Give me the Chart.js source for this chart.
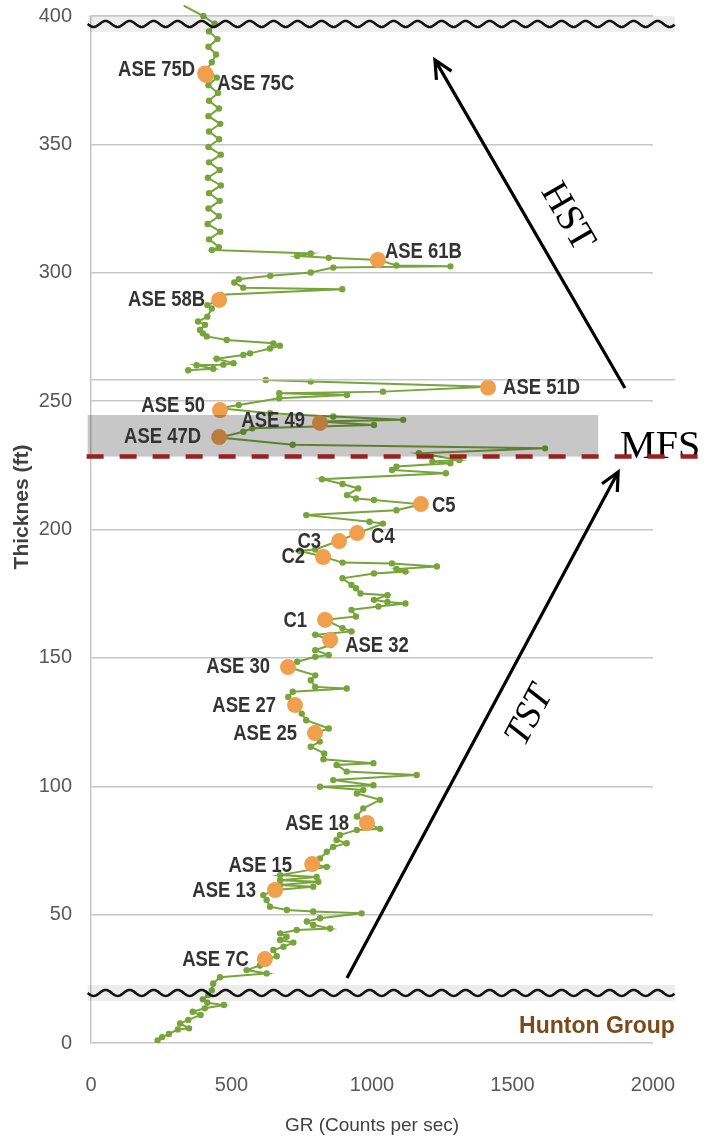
<!DOCTYPE html>
<html>
<head>
<meta charset="utf-8">
<title>GR log - Thickness</title>
<script src="https://cdn.jsdelivr.net/npm/chart.js@4.4.1/dist/chart.umd.min.js"></script>
<style>
  html, body { margin: 0; padding: 0; background: #fff; }
  #wrap { width: 706px; height: 1144px; position: relative; }
</style>
</head>
<body>
<div id="wrap"><canvas id="grChart"></canvas></div>
<script>
// GR log readings, from the base of the section upwards (null = break in the log)
const grValue = [
  237, 253, 277, 309, 349, 317, 346, 390, 362, 405, 473, 414, 398, 417, 430,
  435, 459, 625, 554, 601, 619, 661, 649, 685, 720, 673, 696, 673, 732, 851, 791, 768, 815, 963, 791, 697, 637, 625, 613,
  655, 791, 673, 809, 673, 803, 673, 839, 787, 815, 839, 862, 910, 874, 886, 946, 1029, 982, 946, 969, 1029, 946, 969,
  815, 1005, 862, 1159, 910, 874, 1005, 827, 830, 782, 814,
  798, 846, 766, 750, 726, 702, 718, 910, 798, 782, 798, 702, 734, 798, 846, 798, 854, 850, 798, 927, 895, 834, 943,
  927, 1023, 1119, 1055, 1007, 1055, 959, 943, 927, 895, 1007, 1119, 1087, 1231,
  1071, 895, 827, 742, 798, 883, 947, 1039, 991, 766, 1087, 1175, 1007, 943, 911, 951, 895, 822, 1263, 1071, 1087,
  1279, 1215, 1311, 1167, 1616, 718, 457, 542, 574, 1007, 814, 1111, 862, 638, 457, 526, 670, 911, 670, 1039, 1415,
  782, 622, null,
  346, 435, 376, 471, 507, 447, 542, 566, 637, 672, 649, 483, 412, 398, 388, 406, 381, 414, 430, 414, 457, 462, 894,
  542, 510, 526, 638, 782, 862, 1279, 1087, 1023, 846, 734, 782, 430,
  455, 420, 460, 415, 455, 418, 458, 420, 462, 416, 458, 420, 462, 418, 456, 420, 460, 418, 455, 420, 452, 418, 448,
  410, 430, 445, 418, 450, 420, 440, 400, 330
];
const grDepth = [
  1.0, 2.3, 3.5, 5.3, 5.7, 7.6, 9.0, 10.9, 12.2, 13.5, 14.8, 15.7, 17.0, 18.7, 20.5,
  23.2, 25.6, 27.1, 28.4, 30.2, 32.5, 33.8, 36.2, 37.5, 39.1, 40.1, 41.4, 42.7, 44.0, 44.6, 46.0, 47.3, 48.6, 50.5, 51.2, 51.8, 53.1, 55.7, 57.6,
  59.6, 60.9, 61.5, 62.8, 63.4, 64.7, 65.4, 68.6, 69.6, 71.9, 74.5, 76.4, 77.8, 79.1, 81.0, 83.0, 83.4, 85.6, 88.2, 91.4, 94.7, 97.2, 98.5,
  99.8, 100.4, 102.4, 104.4, 105.7, 108.3, 109.0, 110.5, 112.8, 115.4, 117.4,
  120.6, 122.5, 125.7, 128.3, 131.6, 134.8, 136.8, 138.1, 138.7, 141.3, 143.2, 146.4, 148.5, 150.4, 151.1, 153.0, 155.0, 157.0, 159.0, 160.3, 161.6, 164.8, 166.1,
  168.7, 170.0, 171.2, 171.8, 172.6, 174.4, 175.1, 177.1, 178.4, 181.0, 182.9, 183.6, 184.6, 185.6,
  186.8, 187.1, 189.4, 191.7, 192.2, 195.6, 198.5, 202.3, 203.0, 205.6, 207.5, 209.8, 211.5, 212.1, 213.4, 216.0, 217.7, 219.6, 221.9, 223.2, 224.5,
  225.8, 226.5, 227.1, 229.7, 231.6, 233.0, 235.8, 238.1, 239.4, 240.7, 242.1, 242.7, 244.0, 245.3, 247.2, 248.5, 251.1, 252.4, 253.1, 253.7, 255.6,
  257.6, 258.2, null,
  262.0, 262.6, 264.0, 264.2, 264.8, 266.5, 268.0, 268.6, 270.5, 271.6, 272.5, 273.8, 275.2, 276.4, 277.7, 279.7, 281.0, 282.9, 286.1, 287.4, 289.4, 291.4, 293.6,
  294.2, 296.2, 297.5, 298.8, 300.1, 302.0, 302.5, 302.8, 305.0, 305.8, 306.5, 307.5, 308.9,
  310, 313, 316, 319, 322, 325, 328, 331, 334, 337, 340, 343, 346, 349, 352, 355, 358, 361, 364, 367, 370, 373, 376,
  379, 382, 385, 388, 391, 394, 397, 400, 404
];

// sampled horizons
const sampleNames = ['ASE 75D', 'ASE 75C', 'ASE 61B', 'ASE 58B', 'ASE 51D', 'ASE 50', 'ASE 49', 'ASE 47D',
  'C5', 'C4', 'C3', 'C2', 'C1', 'ASE 32', 'ASE 30', 'ASE 27', 'ASE 25', 'ASE 18', 'ASE 15', 'ASE 13', 'ASE 7C'];
const sampleValue = [406, 410, 1021, 456, 1413, 459, 815, 456, 1174, 947, 883, 826, 833, 851, 701, 726, 797, 982, 787, 655, 619];
const sampleDepth = [377.6, 377.0, 305.0, 289.4, 255.3, 246.5, 241.5, 236.0, 209.9, 198.6, 195.5, 189.3, 164.8, 157.0, 146.4, 131.6, 120.7, 85.7, 69.7, 59.6, 32.7];

// label placement beside each dot
const labelSide = ['l', 'r', 'r', 'l', 'r', 'l', 'l', 'l', 'r', 'r', 'l', 'l', 'l', 'r', 'l', 'l', 'l', 'l', 'l', 'l', 'l'];
const labelGap = [10, 11, 7, 14, 15, 15, 15, 18, 11, 14, 18, 18, 18, 15, 18, 19, 18, 18, 20, 19, 16];
const labelNudge = [-4, 9, -8, 0, 0, -4, -2, 0, 2, 4, 1, 0, 1, 6, 0, 1, 1, 1, 2, 1, 1];

// interpretation marks (data units)
const mfsDepth = 228.4;
const bandTop = 244.6;
const bandRight = 1805;
const unconformities = [396.9, 19.5];
const spliceDepth = 258.3;
const hstArrow = [1900, 255.1, 1224, 382.9];
const tstArrow = [911, 25.3, 1876, 222.4];

const tickFont = '"Liberation Sans", Arial, sans-serif';

const overlay = {
  id: 'overlay',
  afterDatasetsDraw(chart) {
    const { ctx, scales: { x, y } } = chart;
    const px = v => x.getPixelForValue(v);
    const py = v => y.getPixelForValue(v);
    ctx.save();

    // splice line
    ctx.strokeStyle = '#c8c8c8';
    ctx.lineWidth = 1.5;
    ctx.beginPath();
    ctx.moveTo(px(-5), py(spliceDepth));
    ctx.lineTo(px(2078), py(spliceDepth));
    ctx.stroke();

    // grey band
    const bx0 = px(-12), bx1 = px(bandRight);
    const by0 = py(bandTop), by1 = py(mfsDepth);
    ctx.fillStyle = 'rgba(0,0,0,0.22)';
    ctx.fillRect(bx0, by0, bx1 - bx0, by1 - by0);

    // MFS text then dashed line over it
    ctx.fillStyle = '#000';
    ctx.font = '40px "Liberation Serif", "Times New Roman", serif';
    ctx.textAlign = 'left';
    ctx.textBaseline = 'alphabetic';
    ctx.fillText('MFS', px(1883), by1 + 1);
    ctx.strokeStyle = '#9a1f1f';
    ctx.lineWidth = 4.5;
    ctx.setLineDash([17, 16]);
    ctx.beginPath();
    ctx.moveTo(bx0 - 1, by1);
    ctx.lineTo(chart.width, by1);
    ctx.stroke();
    ctx.setLineDash([]);

    // wavy unconformities
    unconformities.forEach(d => {
      const yp = py(d), x0 = px(-12), x1 = px(2078);
      ctx.fillStyle = 'rgba(0,0,0,0.07)';
      ctx.fillRect(x0, yp - 8, x1 - x0, 16);
      ctx.beginPath();
      for (let p = x0; p <= x1; p += 1) {
        const w = yp + 3 * Math.sin((p - x0) / 24 * 2 * Math.PI);
        if (p === x0) ctx.moveTo(p, w); else ctx.lineTo(p, w);
      }
      ctx.strokeStyle = '#111';
      ctx.lineWidth = 2.6;
      ctx.stroke();
    });

    // arrows
    function arrow(a) {
      const x0 = px(a[0]), y0 = py(a[1]), x1 = px(a[2]), y1 = py(a[3]);
      const ang = Math.atan2(y1 - y0, x1 - x0);
      ctx.strokeStyle = '#000';
      ctx.lineWidth = 3.2;
      ctx.beginPath();
      ctx.moveTo(x0, y0);
      ctx.lineTo(x1, y1);
      ctx.moveTo(x1 + 20 * Math.cos(ang + Math.PI - 0.45), y1 + 20 * Math.sin(ang + Math.PI - 0.45));
      ctx.lineTo(x1, y1);
      ctx.lineTo(x1 + 20 * Math.cos(ang + Math.PI + 0.45), y1 + 20 * Math.sin(ang + Math.PI + 0.45));
      ctx.stroke();
    }
    arrow(hstArrow);
    arrow(tstArrow);

    function rotText(txt, xv, yv, deg, font) {
      ctx.save();
      ctx.translate(px(xv), py(yv));
      ctx.rotate(deg * Math.PI / 180);
      ctx.font = font;
      ctx.fillStyle = '#000';
      ctx.textAlign = 'center';
      ctx.textBaseline = 'middle';
      ctx.fillText(txt, 0, 0);
      ctx.restore();
    }
    rotText('HST', 1694, 321.7, 60, '38px "Liberation Serif", serif');
    rotText('TST', 1562, 127.4, -62, 'italic 38px "Liberation Serif", serif');

    // formation name
    ctx.fillStyle = '#7b4a1b';
    ctx.font = 'bold 23px ' + tickFont;
    ctx.textAlign = 'right';
    ctx.textBaseline = 'alphabetic';
    ctx.fillText('Hunton Group', px(2078), py(3.8));

    // sample labels, slightly condensed
    ctx.fillStyle = '#333';
    ctx.font = 'bold 22px ' + tickFont;
    ctx.textBaseline = 'middle';
    const squeeze = 0.84;
    sampleNames.forEach((name, i) => {
      const cx = px(sampleValue[i]), cy = py(sampleDepth[i]) + labelNudge[i];
      const tx = labelSide[i] === 'l' ? cx - labelGap[i] : cx + labelGap[i];
      ctx.save();
      ctx.translate(tx, cy);
      ctx.scale(squeeze, 1);
      ctx.textAlign = labelSide[i] === 'l' ? 'right' : 'left';
      ctx.fillText(name, 0, 0);
      ctx.restore();
    });

    // y axis title
    ctx.save();
    ctx.translate(22, 507);
    ctx.rotate(-Math.PI / 2);
    ctx.fillStyle = '#404040';
    ctx.font = 'bold 21px ' + tickFont;
    ctx.textAlign = 'center';
    ctx.textBaseline = 'middle';
    ctx.fillText('Thicknes (ft)', 0, 0);
    ctx.restore();

    ctx.restore();
  }
};

const ctx = document.getElementById('grChart').getContext('2d');
const grChart = new Chart(ctx, {
  type: 'scatter',
  data: {
    datasets: [
      {
        label: 'GR',
        data: grValue.map((v, i) => ({ x: v, y: grDepth[i] })),
        showLine: true,
        spanGaps: false,
        borderColor: '#77a53b',
        backgroundColor: '#77a53b',
        borderWidth: 2,
        pointRadius: 2.2,
        pointStyle: 'circle',
        clip: { left: 0, right: 0, top: 16, bottom: 0 },
        order: 2
      },
      {
        label: 'Samples',
        data: sampleValue.map((v, i) => ({ x: v, y: sampleDepth[i] })),
        backgroundColor: '#f0a04d',
        borderWidth: 0,
        pointRadius: 8,
        order: 1
      }
    ]
  },
  options: {
    responsive: true,
    maintainAspectRatio: false,
    animation: false,
    layout: { padding: { left: 0, right: 53, top: 16, bottom: 0 } },
    plugins: { legend: { display: false }, tooltip: { enabled: false } },
    scales: {
      x: {
        type: 'linear',
        min: 0,
        max: 2000,
        ticks: {
          stepSize: 500, color: '#595959', font: { family: tickFont, size: 20 }, padding: 0,
          callback: v => String(v)
        },
        grid: { display: true, drawOnChartArea: false, drawTicks: true, tickLength: 30, tickColor: 'rgba(0,0,0,0)' },
        border: { display: false },
        title: {
          display: true,
          text: 'GR (Counts per sec)',
          color: '#404040',
          font: { family: tickFont, size: 19 },
          padding: { top: 0, bottom: 7 }
        },
        afterFit(scale) { scale.height = 101; }
      },
      y: {
        min: 0,
        max: 400,
        ticks: { stepSize: 50, color: '#595959', font: { family: tickFont, size: 20 }, padding: 0 },
        grid: { color: '#c6c6c6', lineWidth: 1.5, drawTicks: true, tickLength: 19, tickColor: 'rgba(0,0,0,0)' },
        border: { display: true, color: '#c6c6c6', width: 1.5 },
        afterFit(scale) { scale.width = 91; }
      }
    }
  },
  plugins: [overlay]
});
</script>
</body>
</html>
